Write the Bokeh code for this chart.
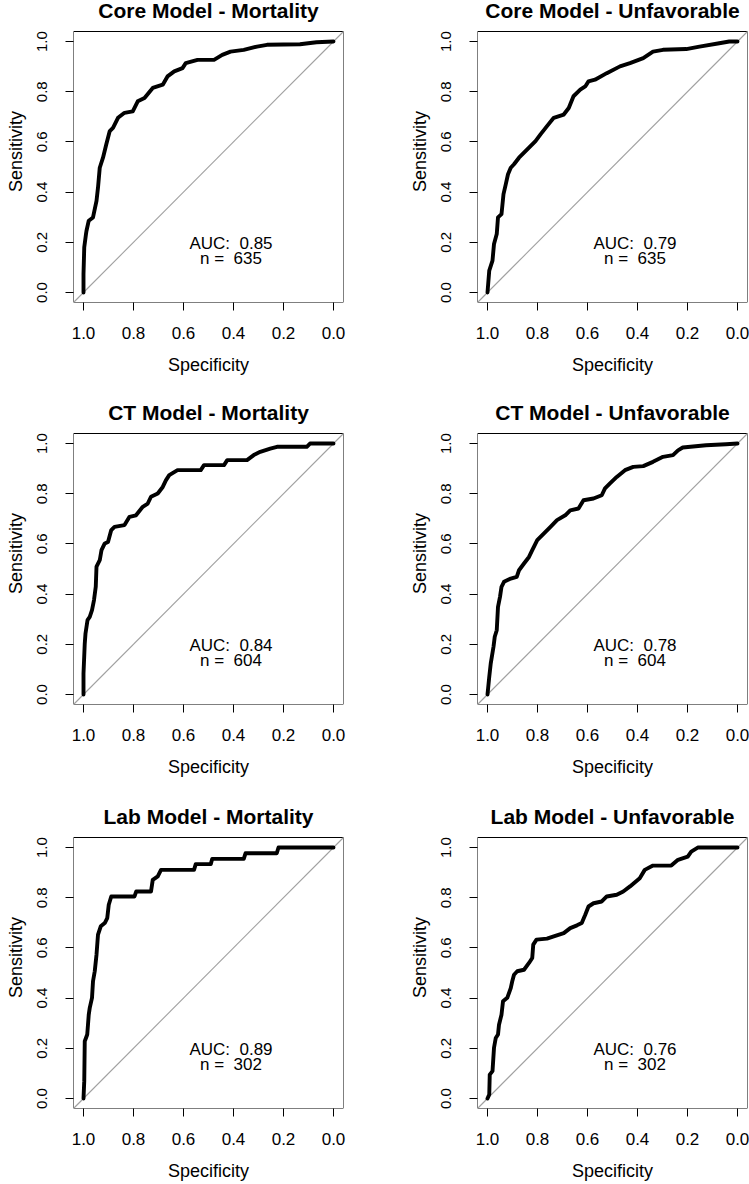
from bokeh.plotting import figure
from bokeh.layouts import gridplot
from bokeh.models import Range1d, FixedTicker, PrintfTickFormatter
from bokeh.core.properties import value
from bokeh.embed import file_html
from bokeh.resources import INLINE

# ---- data ----
titles = ["Core Model - Mortality", "Core Model - Unfavorable",
          "CT Model - Mortality", "CT Model - Unfavorable",
          "Lab Model - Mortality", "Lab Model - Unfavorable"]
auc_values = [0.85, 0.79, 0.84, 0.78, 0.89, 0.76]
n_values = [635, 635, 604, 604, 302, 302]
ticks = [0.0, 0.2, 0.4, 0.6, 0.8, 1.0]
tick_labels = ["0.0", "0.2", "0.4", "0.6", "0.8", "1.0"]

core_mort_spec = [1.0, 1.0, 0.997, 0.99, 0.988, 0.979, 0.962, 0.948, 0.942, 0.935, 0.922, 0.909, 0.895,
                  0.882, 0.862, 0.836, 0.803, 0.783, 0.756, 0.723, 0.683, 0.664, 0.637, 0.604, 0.591,
                  0.544, 0.478, 0.445, 0.412, 0.359, 0.306, 0.266, 0.134, 0.068, 0.0]
core_mort_sens = [0.0, 0.074, 0.18, 0.233, 0.246, 0.286, 0.299, 0.365, 0.418, 0.497, 0.537, 0.59, 0.643,
                  0.656, 0.696, 0.716, 0.722, 0.762, 0.775, 0.815, 0.828, 0.861, 0.881, 0.894, 0.914,
                  0.927, 0.927, 0.947, 0.96, 0.967, 0.98, 0.987, 0.989, 0.997, 1.0]

core_unf_spec = [1.0, 0.993, 0.98, 0.974, 0.963, 0.958, 0.944, 0.936, 0.927, 0.918, 0.907, 0.894, 0.874,
                 0.834, 0.808, 0.788, 0.762, 0.735, 0.695, 0.675, 0.656, 0.629, 0.609, 0.596, 0.57,
                 0.523, 0.47, 0.43, 0.377, 0.338, 0.298, 0.205, 0.152, 0.073, 0.033, 0.0]
core_unf_sens = [0.0, 0.087, 0.127, 0.193, 0.233, 0.299, 0.312, 0.392, 0.431, 0.471, 0.497, 0.511, 0.537,
                 0.577, 0.603, 0.63, 0.663, 0.696, 0.709, 0.735, 0.782, 0.808, 0.821, 0.841, 0.848,
                 0.874, 0.901, 0.914, 0.934, 0.96, 0.967, 0.97, 0.98, 0.993, 1.0, 1.0]

ct_mort_spec = [1.0, 1.0, 0.995, 0.992, 0.984, 0.975, 0.966, 0.958, 0.951, 0.948, 0.935, 0.928, 0.915,
                0.902, 0.889, 0.876, 0.836, 0.816, 0.79, 0.763, 0.743, 0.73, 0.703, 0.683, 0.67,
                0.657, 0.624, 0.531, 0.518, 0.438, 0.425, 0.346, 0.319, 0.293, 0.253, 0.226, 0.107,
                0.094, 0.0]
ct_mort_sens = [0.0, 0.084, 0.203, 0.243, 0.296, 0.309, 0.336, 0.376, 0.429, 0.509, 0.535, 0.575, 0.602,
                0.608, 0.655, 0.668, 0.675, 0.708, 0.714, 0.748, 0.761, 0.788, 0.801, 0.827, 0.854,
                0.874, 0.894, 0.894, 0.914, 0.914, 0.934, 0.934, 0.954, 0.967, 0.98, 0.987, 0.987,
                1.0, 1.0]

ct_unf_spec = [1.0, 0.993, 0.987, 0.976, 0.971, 0.963, 0.958, 0.95, 0.944, 0.934, 0.907, 0.883, 0.874,
               0.854, 0.834, 0.821, 0.801, 0.775, 0.748, 0.722, 0.689, 0.669, 0.636, 0.616, 0.576,
               0.543, 0.53, 0.51, 0.483, 0.45, 0.417, 0.377, 0.338, 0.298, 0.258, 0.238, 0.219,
               0.126, 0.046, 0.0]
ct_unf_sens = [0.0, 0.07, 0.124, 0.19, 0.23, 0.256, 0.349, 0.389, 0.429, 0.449, 0.462, 0.469, 0.495,
               0.522, 0.548, 0.575, 0.615, 0.641, 0.668, 0.695, 0.714, 0.734, 0.741, 0.774, 0.781,
               0.794, 0.821, 0.841, 0.867, 0.894, 0.907, 0.91, 0.927, 0.947, 0.954, 0.973, 0.984,
               0.993, 0.997, 1.0]

lab_mort_spec = [1.0, 0.997, 0.995, 0.985, 0.979, 0.975, 0.966, 0.962, 0.955, 0.948, 0.942, 0.931, 0.915,
                 0.905, 0.899, 0.889, 0.796, 0.789, 0.73, 0.723, 0.703, 0.69, 0.558, 0.551, 0.491,
                 0.485, 0.359, 0.352, 0.227, 0.22, 0.0]
lab_mort_sens = [0.0, 0.069, 0.228, 0.255, 0.334, 0.361, 0.401, 0.467, 0.507, 0.573, 0.653, 0.686, 0.699,
                 0.719, 0.772, 0.805, 0.805, 0.825, 0.825, 0.871, 0.885, 0.911, 0.911, 0.934, 0.934,
                 0.955, 0.955, 0.977, 0.977, 1.0, 1.0]

lab_unf_spec = [1.0, 0.993, 0.991, 0.98, 0.974, 0.967, 0.958, 0.954, 0.944, 0.938, 0.921, 0.907, 0.901,
                0.894, 0.881, 0.854, 0.834, 0.821, 0.817, 0.804, 0.762, 0.735, 0.695, 0.669, 0.642,
                0.623, 0.609, 0.596, 0.576, 0.543, 0.523, 0.483, 0.457, 0.43, 0.391, 0.371, 0.338,
                0.265, 0.238, 0.199, 0.185, 0.159, 0.0]
lab_unf_sens = [0.0, 0.016, 0.095, 0.109, 0.202, 0.241, 0.255, 0.294, 0.334, 0.387, 0.401, 0.44, 0.467,
                0.493, 0.507, 0.513, 0.54, 0.56, 0.613, 0.633, 0.637, 0.646, 0.659, 0.679, 0.69,
                0.699, 0.732, 0.765, 0.778, 0.785, 0.805, 0.812, 0.825, 0.845, 0.878, 0.911, 0.928,
                0.928, 0.951, 0.964, 0.984, 1.0, 1.0]

specs = [core_mort_spec, core_unf_spec, ct_mort_spec, ct_unf_spec, lab_mort_spec, lab_unf_spec]
senss = [core_mort_sens, core_unf_sens, ct_mort_sens, ct_unf_sens, lab_mort_sens, lab_unf_sens]

FONT = "Liberation Sans"

BOX_PX = 271            # height of the plot box in pixels
TITLE_PX = 31           # room above the box for the panel title
UNIT = 1.08 / BOX_PX    # data units per pixel
Y_TOP = 1.04 + TITLE_PX * UNIT


def make_panel(i, left, right, bottom):
    p = figure(frame_width=270, frame_height=BOX_PX + TITLE_PX,
               x_range=Range1d(1.04, -0.04), y_range=Range1d(-0.04, Y_TOP),
               output_backend="svg", toolbar_location=None,
               min_border_left=left, min_border_right=right,
               min_border_top=0, min_border_bottom=bottom,
               x_axis_label="Specificity", y_axis_label="Sensitivity")
    p.title.text = ""
    p.xgrid.visible = False
    p.ygrid.visible = False
    p.background_fill_color = "white"
    p.border_fill_color = "white"
    p.outline_line_color = None

    for ax in (p.xaxis[0], p.yaxis[0]):
        ax.ticker = FixedTicker(ticks=ticks)
        ax.formatter = PrintfTickFormatter(format="%.1f")
        ax.major_label_overrides = {t: l for t, l in zip(ticks, tick_labels)}
        ax.axis_line_color = None
        ax.major_tick_line_color = "black"
        ax.major_tick_line_width = 1
        ax.major_tick_out = 8
        ax.major_tick_in = 0
        ax.minor_tick_line_color = None
        ax.major_label_text_font = FONT
        ax.major_label_text_color = "black"
        ax.axis_label_text_font = FONT
        ax.axis_label_text_font_style = "normal"
        ax.axis_label_text_font_size = "18px"
        ax.axis_label_text_color = "black"
    p.xaxis.major_label_text_font_size = "17px"
    p.xaxis.major_label_standoff = 16
    p.xaxis.axis_label_standoff = 13
    p.yaxis.major_label_text_font_size = "15px"
    p.yaxis.major_label_orientation = "vertical"
    p.yaxis.major_label_standoff = 18
    p.yaxis.axis_label_standoff = 9

    # plot box
    p.rect(x=[0.5], y=[0.5], width=1.08, height=1.08, fill_color=None,
           line_color="black", line_width=1)
    # panel title above the box
    p.text(x=[0.5], y=[1.04 + 21.5 * UNIT], text=[titles[i]], text_align="center",
           text_baseline="middle", text_font=value(FONT), text_font_size="21px",
           text_font_style="bold", text_color="black")

    # identity line
    p.line([1.04, -0.04], [-0.04, 1.04], line_color="#a0a0a0", line_width=1.1)
    # ROC curve
    p.line(specs[i], senss[i], line_color="black", line_width=3.9, line_join="round", line_cap="round")
    p.text(x=[0.41], y=[0.195], text=["AUC: \u00a0%.2f" % auc_values[i]], text_align="center",
           text_baseline="middle", text_font=value(FONT), text_font_size="17px", text_color="black")
    p.text(x=[0.41], y=[0.137], text=["n = \u00a0%d" % n_values[i]], text_align="center",
           text_baseline="middle", text_font=value(FONT), text_font_size="17px", text_color="black")
    return p


row_bottoms = [100, 102, 76]
panels = []
for r in range(3):
    row = []
    for c in range(2):
        i = r * 2 + c
        if c == 0:
            row.append(make_panel(i, 73, 63, row_bottoms[r]))
        else:
            row.append(make_panel(i, 70, 3, row_bottoms[r]))
    panels.append(row)

grid = gridplot(panels, toolbar_location=None)
open("out.html", "w").write(file_html(grid, INLINE))
